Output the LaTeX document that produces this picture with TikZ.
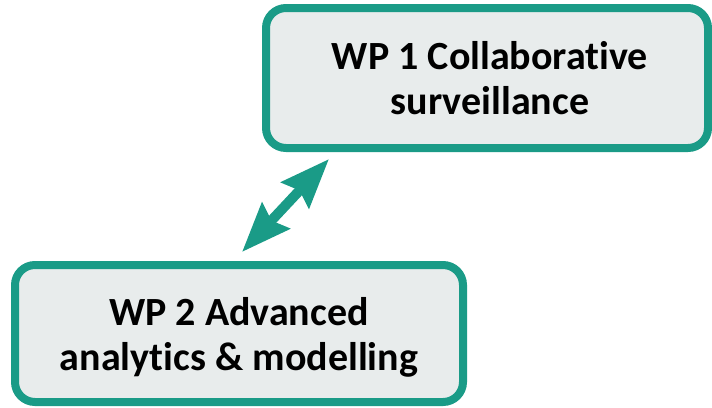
\documentclass[tikz,border=0pt]{standalone}
\usepackage{fontspec}
\setmainfont[Ligatures=NoCommon]{Carlito}
\usetikzlibrary{arrows.meta}
\definecolor{teal}{RGB}{26,155,135}
\definecolor{boxfill}{RGB}{232,236,236}
\begin{document}
\begin{tikzpicture}[x=1pt,y=-1pt,
  wpbox/.style={draw=teal, line width=8pt, fill=boxfill, rounded corners=20pt,
    minimum width=#1, inner sep=0pt},
  wptext/.style={inner sep=0pt, align=center,
    font=\fontsize{40}{45}\selectfont\bfseries},
  link/.style={draw=teal, line width=10pt,
    {Stealth[length=49pt,width=37pt,inset=6pt]}-{Stealth[length=49pt,width=37pt,inset=6pt]}}]
\useasboundingbox (0,0) rectangle (712,407);
\node[wpbox=442pt, minimum height=140pt] (wp1) at (487,78) {};
\node[wptext] (wp1t) at ([xshift=3pt]wp1.center) {WP 1 Collaborative\\surveillance};
\node[wpbox=448pt, minimum height=137pt] (wp2) at (239,333.5) {};
\node[wptext] (wp2t) at ([yshift=-4pt]wp2.center) {WP 2 Advanced\\analytics \& modelling};
\coordinate (a1) at (329,159);
\coordinate (a2) at (242,252);
\draw[link] (a2) -- (a1);
\end{tikzpicture}
\end{document}
